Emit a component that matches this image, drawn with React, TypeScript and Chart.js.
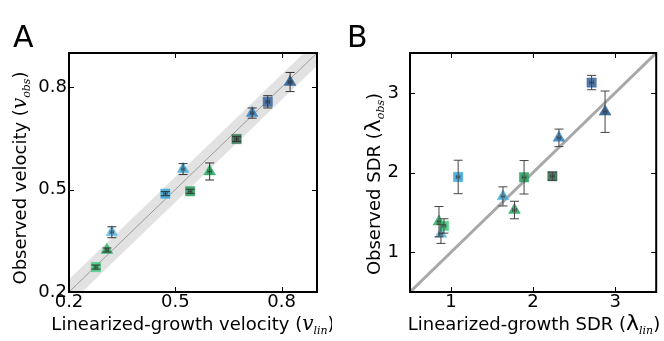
import React, { useEffect, useRef } from 'react';
import { Chart, registerables } from 'chart.js';
Chart.register(...registerables);

// ---------- Panel A: velocity ----------
const velSquareLin = [0.276, 0.472, 0.542, 0.673, 0.761];
const velSquareObs = [0.273, 0.488, 0.495, 0.648, 0.757];
const velSquareErr = [0.006, 0.006, 0.006, 0.007, 0.018];
const velTriLin = [0.307, 0.321, 0.522, 0.597, 0.717, 0.824];
const velTriObs = [0.323, 0.375, 0.56, 0.553, 0.724, 0.815];
const velTriErr = [0.006, 0.016, 0.016, 0.025, 0.015, 0.028];
const velXErr = 0.005;
const velTicks = [0.2, 0.5, 0.8];
const velRange = [0.2, 0.9];
const velBand = 0.037;

// ---------- Panel B: SDR ----------
const sdrSquareLin = [0.914, 1.087, 1.89, 2.235, 2.713];
const sdrSquareObs = [1.329, 1.944, 1.94, 1.953, 3.129];
const sdrSquareErr = [0.09, 0.21, 0.21, 0.05, 0.09];
const sdrTriLin = [0.853, 0.877, 1.633, 1.773, 2.315, 2.877];
const sdrTriObs = [1.383, 1.23, 1.7, 1.529, 2.435, 2.763];
const sdrTriErr = [0.19, 0.12, 0.12, 0.11, 0.11, 0.26];
const sdrXErr = 0.022;
const sdrTicks = [1, 2, 3];
const sdrRange = [0.5, 3.5];

// ---------- styles ----------
const squareColors = ['#3fc97c', '#38a8da', '#2a9f5e', '#336f4e', '#3b69a0'];
const triColors = ['#30b66c', '#62bce8', '#4ab1e0', '#2ba860', '#3386c6', '#275d96'];
const SANS = 'DejaVu Sans';
const SERIF = 'DejaVu Serif';

type Seg = { t: string; f: string; dy?: number };

function drawRich(ctx: CanvasRenderingContext2D, segs: Seg[], x: number, y: number, rot: boolean) {
  ctx.save();
  let total = 0;
  const ws = segs.map((s) => {
    ctx.font = s.f;
    const w = ctx.measureText(s.t).width;
    total += w;
    return w;
  });
  ctx.translate(x, y);
  if (rot) ctx.rotate(-Math.PI / 2);
  ctx.fillStyle = '#000';
  ctx.textBaseline = 'alphabetic';
  ctx.textAlign = 'left';
  let p = -total / 2;
  segs.forEach((s, i) => {
    ctx.font = s.f;
    ctx.fillText(s.t, p, s.dy || 0);
    p += ws[i];
  });
  ctx.restore();
}

type Spec = {
  width: number;
  padRight: number;
  yWidth: number;
  yPad: number;
  range: number[];
  ticks: number[];
  fmt: (v: number) => string;
  sqX: number[]; sqY: number[]; sqE: number[];
  trX: number[]; trY: number[]; trE: number[];
  xErr: number;
  band: number | null;
  lineWidth: number;
  lineColor: string;
  letter: string;
  letterX: number;
  xTitle: Seg[]; xTitleX: number;
  yTitle: Seg[]; yTitleX: number; yTitleY: number;
  errColor: string;
};

function makePlugin(s: Spec) {
  return {
    id: 'panelDeco',
    afterDatasetsDraw(chart: any) {
      const { ctx, chartArea: ca, scales } = chart;
      const xs = scales.x, ys = scales.y;
      ctx.save();
      ctx.lineWidth = 1;
      const drawErr = (xv: number, yv: number, e: number) => {
        const px = xs.getPixelForValue(xv);
        const py = ys.getPixelForValue(yv);
        const y1 = ys.getPixelForValue(yv - e);
        const y2 = ys.getPixelForValue(yv + e);
        const x1 = xs.getPixelForValue(xv - s.xErr);
        const x2 = xs.getPixelForValue(xv + s.xErr);
        ctx.strokeStyle = s.errColor;
        ctx.beginPath();
        ctx.moveTo(px, y1); ctx.lineTo(px, y2);
        ctx.moveTo(px - 4.5, y1); ctx.lineTo(px + 4.5, y1);
        ctx.moveTo(px - 4.5, y2); ctx.lineTo(px + 4.5, y2);
        ctx.stroke();
        ctx.strokeStyle = 'rgba(40,40,40,0.6)';
        ctx.beginPath();
        ctx.moveTo(x1, py); ctx.lineTo(x2, py);
        ctx.moveTo(x1, py - 2); ctx.lineTo(x1, py + 2);
        ctx.moveTo(x2, py - 2); ctx.lineTo(x2, py + 2);
        ctx.stroke();
      };
      s.sqX.forEach((xv, i) => drawErr(xv, s.sqY[i], s.sqE[i]));
      s.trX.forEach((xv, i) => drawErr(xv, s.trY[i], s.trE[i]));
      // ticks (inward, all sides)
      ctx.strokeStyle = '#000';
      ctx.lineWidth = 1;
      ctx.beginPath();
      s.ticks.forEach((t) => {
        const px = Math.round(xs.getPixelForValue(t)) + 0.5;
        ctx.moveTo(px, ca.bottom); ctx.lineTo(px, ca.bottom - 5);
        ctx.moveTo(px, ca.top); ctx.lineTo(px, ca.top + 5);
        const py = Math.round(ys.getPixelForValue(t)) + 0.5;
        ctx.moveTo(ca.left, py); ctx.lineTo(ca.left + 5, py);
        ctx.moveTo(ca.right, py); ctx.lineTo(ca.right - 5, py);
      });
      ctx.stroke();
      // frame
      ctx.lineWidth = 2;
      ctx.strokeRect(ca.left, ca.top, ca.right - ca.left, ca.bottom - ca.top);
      ctx.restore();
    },
    afterDraw(chart: any) {
      const { ctx } = chart;
      drawRich(ctx, s.xTitle, s.xTitleX, 330, false);
      drawRich(ctx, s.yTitle, s.yTitleX, s.yTitleY, true);
      ctx.save();
      ctx.font = `30px ${SANS}`;
      ctx.fillStyle = '#000';
      ctx.textBaseline = 'alphabetic';
      ctx.fillText(s.letter, s.letterX, 47);
      ctx.restore();
    },
  };
}

function buildConfig(s: Spec): any {
  const r0 = s.range[0], r1 = s.range[1];
  const datasets: any[] = [
    {
      type: 'scatter',
      data: s.sqX.map((x, i) => ({ x, y: s.sqY[i] })),
      pointStyle: 'rect',
      pointRadius: 6.6,
      backgroundColor: squareColors.map((c) => c + 'e0'),
      borderColor: squareColors.map((c) => c + '70'),
      borderWidth: 1,
      order: 0,
    },
    {
      type: 'scatter',
      data: s.trX.map((x, i) => ({ x, y: s.trY[i] })),
      pointStyle: 'triangle',
      pointRadius: 6.8,
      backgroundColor: triColors.map((c) => c + 'e0'),
      borderColor: triColors.map((c) => c + '70'),
      borderWidth: 1,
      order: 0,
    },
    {
      type: 'line',
      data: [{ x: r0, y: r0 }, { x: r1, y: r1 }],
      borderColor: s.lineColor,
      borderWidth: s.lineWidth,
      pointRadius: 0,
      fill: false,
      order: 1,
    },
  ];
  if (s.band !== null) {
    const b = s.band;
    datasets.push(
      {
        type: 'line',
        data: [{ x: r0, y: r0 + b }, { x: r1, y: r1 + b }],
        borderWidth: 0,
        pointRadius: 0,
        backgroundColor: '#e2e2e2',
        fill: '+1',
        order: 3,
      },
      {
        type: 'line',
        data: [{ x: r0, y: r0 - b }, { x: r1, y: r1 - b }],
        borderWidth: 0,
        pointRadius: 0,
        fill: false,
        order: 4,
      }
    );
  }
  const tickFont = { family: SANS, size: 18 };
  const setTicks = (sc: any) => { sc.ticks = s.ticks.map((v) => ({ value: v })); };
  return {
    type: 'scatter',
    data: { datasets },
    plugins: [makePlugin(s)],
    options: {
      animation: false,
      responsive: false,
      devicePixelRatio: 1,
      layout: { padding: { left: 0, top: 53, right: s.padRight, bottom: 0 } },
      plugins: { legend: { display: false }, tooltip: { enabled: false } },
      scales: {
        x: {
          type: 'linear', min: r0, max: r1,
          afterBuildTicks: setTicks,
          grid: { display: false, drawTicks: false },
          border: { display: false },
          ticks: { font: tickFont, color: '#000', padding: 0, autoSkip: false, maxRotation: 0, callback: (v: number) => s.fmt(v) },
          afterFit: (sc: any) => { sc.height = 49; sc.paddingLeft = 0; sc.paddingRight = 0; },
        },
        y: {
          type: 'linear', min: r0, max: r1,
          afterBuildTicks: setTicks,
          grid: { display: false, drawTicks: false },
          border: { display: false },
          ticks: { font: tickFont, color: '#000', padding: s.yPad, autoSkip: false, callback: (v: number) => s.fmt(v) },
          afterFit: (sc: any) => { sc.width = s.yWidth; sc.paddingTop = 0; sc.paddingBottom = 0; },
        },
      },
    },
  };
}

const specA: Spec = {
  width: 332, padRight: 15, yWidth: 69, yPad: 2,
  range: velRange, ticks: velTicks, fmt: (v) => v.toFixed(1),
  sqX: velSquareLin, sqY: velSquareObs, sqE: velSquareErr,
  trX: velTriLin, trY: velTriObs, trE: velTriErr,
  xErr: velXErr, band: velBand, lineWidth: 1, lineColor: '#9a9a9a',
  letter: 'A', letterX: 13,
  xTitle: [
    { t: 'Linearized-growth velocity (', f: `18px ${SANS}` },
    { t: 'v', f: `italic 20px ${SERIF}` },
    { t: 'lin', f: `italic 11px ${SERIF}`, dy: 4 },
    { t: ')', f: `18px ${SANS}` },
  ],
  xTitleX: 193,
  yTitle: [
    { t: 'Observed velocity (', f: `18px ${SANS}` },
    { t: 'v', f: `italic 20px ${SERIF}` },
    { t: 'obs', f: `italic 11px ${SERIF}`, dy: 4 },
    { t: ')', f: `18px ${SANS}` },
  ],
  yTitleX: 26, yTitleY: 178, errColor: '#333',
};

const specB: Spec = {
  width: 332, padRight: 7, yWidth: 78, yPad: 11,
  range: sdrRange, ticks: sdrTicks, fmt: (v) => String(Math.round(v)),
  sqX: sdrSquareLin, sqY: sdrSquareObs, sqE: sdrSquareErr,
  trX: sdrTriLin, trY: sdrTriObs, trE: sdrTriErr,
  xErr: sdrXErr, band: null, lineWidth: 3, lineColor: '#a8a8a8',
  letter: 'B', letterX: 15,
  xTitle: [
    { t: 'Linearized-growth SDR (', f: `18px ${SANS}` },
    { t: 'λ', f: `22px ${SANS}` },
    { t: 'lin', f: `italic 11px ${SERIF}`, dy: 4 },
    { t: ')', f: `18px ${SANS}` },
  ],
  xTitleX: 202,
  yTitle: [
    { t: 'Observed SDR (', f: `18px ${SANS}` },
    { t: 'λ', f: `22px ${SANS}` },
    { t: 'obs', f: `italic 11px ${SERIF}`, dy: 4 },
    { t: ')', f: `18px ${SANS}` },
  ],
  yTitleX: 48, yTitleY: 184, errColor: '#444',
};

function Panel({ spec, left }: { spec: Spec; left: number }) {
  const ref = useRef<HTMLCanvasElement | null>(null);
  useEffect(() => {
    if (!ref.current) return;
    const chart = new Chart(ref.current, buildConfig(spec));
    return () => chart.destroy();
  }, [spec]);
  return (
    <canvas
      ref={ref}
      width={spec.width}
      height={341}
      style={{ position: 'absolute', left, top: 0, width: spec.width, height: 341 }}
    />
  );
}

export default function App() {
  return (
    <div style={{ position: 'absolute', left: 0, top: 0, width: 664, height: 341, background: '#fff' }}>
      <Panel spec={specA} left={0} />
      <Panel spec={specB} left={332} />
    </div>
  );
}
